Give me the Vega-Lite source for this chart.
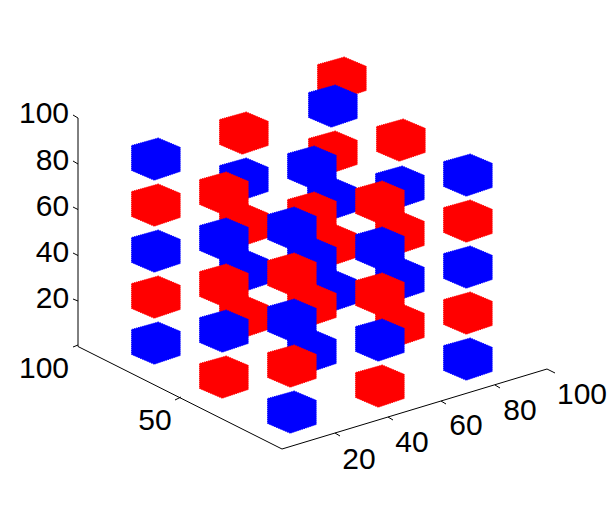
{"$schema":"https://vega.github.io/schema/vega-lite/v6.json","width":608,"height":506,"padding":0,"autosize":{"type":"fit","contains":"padding"},"background":"white","config":{"view":{"stroke":null}},"layer":[{"data":{"values":[{"h":78,"v":118,"h2":78,"v2":346.5},{"h":78,"v":346.5,"h2":282,"v2":449},{"h":282,"v":449,"h2":547,"v2":369},{"h":73,"v":115,"h2":78,"v2":118},{"h":73,"v":161,"h2":78,"v2":164},{"h":73,"v":207,"h2":78,"v2":209.5},{"h":73,"v":253,"h2":78,"v2":255.5},{"h":73,"v":299,"h2":78,"v2":301},{"h":73,"v":347,"h2":78,"v2":345},{"h":175,"v":400,"h2":181,"v2":397},{"h":335,"v":433,"h2":340,"v2":436},{"h":388,"v":417,"h2":393,"v2":420},{"h":441,"v":401,"h2":446,"v2":404},{"h":495,"v":385,"h2":500,"v2":388},{"h":547,"v":369,"h2":555,"v2":373}]},"mark":{"type":"rule","color":"black","strokeWidth":1},"encoding":{"x":{"field":"h","type":"quantitative","scale":{"domain":[0,608],"nice":false,"zero":false},"axis":null},"y":{"field":"v","type":"quantitative","scale":{"domain":[506,0],"nice":false,"zero":false},"axis":null},"x2":{"field":"h2"},"y2":{"field":"v2"}}},{"data":{"values":[{"s":"100","h":44,"v":114},{"s":"80","h":52.5,"v":161},{"s":"60","h":52.5,"v":207},{"s":"40","h":52.5,"v":253},{"s":"20","h":52.5,"v":299},{"s":"100","h":44,"v":369},{"s":"50","h":155,"v":421},{"s":"20","h":359,"v":460},{"s":"40","h":412,"v":443},{"s":"60","h":466,"v":426},{"s":"80","h":520,"v":411},{"s":"100","h":582,"v":395}]},"mark":{"type":"text","font":"Liberation Sans","fontSize":30,"color":"black","align":"center","baseline":"middle"},"encoding":{"x":{"field":"h","type":"quantitative","scale":{"domain":[0,608],"nice":false,"zero":false},"axis":null},"y":{"field":"v","type":"quantitative","scale":{"domain":[506,0],"nice":false,"zero":false},"axis":null},"text":{"field":"s"}}},{"data":{"values":[{"h":342,"v":78,"c":"red"},{"h":332,"v":291,"c":"blue"},{"h":332,"v":245,"c":"red"},{"h":332,"v":199,"c":"blue"},{"h":333,"v":152,"c":"red"},{"h":333,"v":106,"c":"blue"},{"h":400,"v":325,"c":"red"},{"h":400,"v":279,"c":"blue"},{"h":400,"v":233,"c":"red"},{"h":400,"v":187,"c":"blue"},{"h":401,"v":140,"c":"red"},{"h":468,"v":359,"c":"blue"},{"h":468,"v":313,"c":"red"},{"h":468,"v":267,"c":"blue"},{"h":468,"v":221,"c":"red"},{"h":468,"v":175,"c":"blue"},{"h":244,"v":317,"c":"red"},{"h":244,"v":271,"c":"blue"},{"h":244,"v":225,"c":"red"},{"h":244,"v":179,"c":"blue"},{"h":244,"v":133,"c":"red"},{"h":312,"v":351,"c":"blue"},{"h":312,"v":305,"c":"red"},{"h":312,"v":259,"c":"blue"},{"h":312,"v":213,"c":"red"},{"h":312,"v":167,"c":"blue"},{"h":380,"v":386,"c":"red"},{"h":380,"v":340,"c":"blue"},{"h":380,"v":294,"c":"red"},{"h":380,"v":248,"c":"blue"},{"h":380,"v":202,"c":"red"},{"h":156,"v":343,"c":"blue"},{"h":156,"v":297,"c":"red"},{"h":156,"v":251,"c":"blue"},{"h":156,"v":205,"c":"red"},{"h":156,"v":159,"c":"blue"},{"h":224,"v":377,"c":"red"},{"h":224,"v":331,"c":"blue"},{"h":224,"v":285,"c":"red"},{"h":224,"v":239,"c":"blue"},{"h":224,"v":193,"c":"red"},{"h":292,"v":412,"c":"blue"},{"h":292,"v":366,"c":"red"},{"h":292,"v":320,"c":"blue"},{"h":292,"v":274,"c":"red"},{"h":292,"v":228,"c":"blue"}]},"mark":{"type":"point","filled":true,"opacity":1,"size":2500,"strokeWidth":1,"strokeDash":[1,1],"shape":"M0.09,-0.84L0.97,-0.47L0.97,0.5L-0.07,0.85L-0.98,0.46L-0.98,-0.54Z"},"encoding":{"x":{"field":"h","type":"quantitative","scale":{"domain":[0,608],"nice":false,"zero":false},"axis":null},"y":{"field":"v","type":"quantitative","scale":{"domain":[506,0],"nice":false,"zero":false},"axis":null},"color":{"field":"c","type":"nominal","scale":{"domain":["red","blue"],"range":["#ff0000","#0000ff"]},"legend":null},"stroke":{"field":"c","type":"nominal","scale":{"domain":["red","blue"],"range":["#ff0000","#0000ff"]},"legend":null}}}]}
